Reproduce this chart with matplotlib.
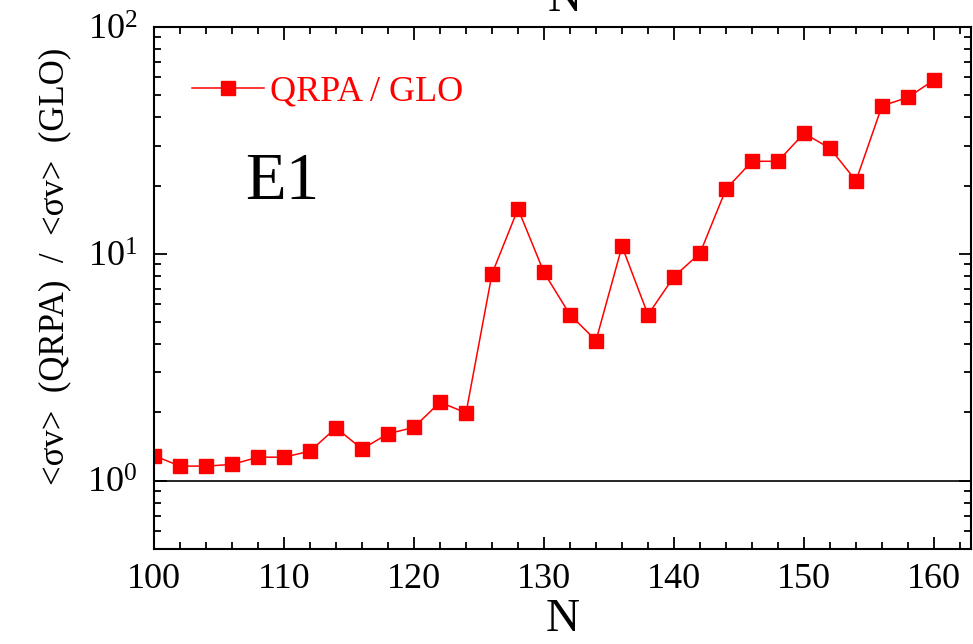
import matplotlib
matplotlib.use('Agg')
from matplotlib import pyplot as plt
from matplotlib.ticker import MultipleLocator, LogLocator, NullFormatter
import numpy as np

plt.rcParams['font.family'] = ['Liberation Serif', 'DejaVu Serif']
plt.rcParams['mathtext.fontset'] = 'custom'
plt.rcParams['mathtext.rm'] = 'Liberation Serif'
plt.rcParams['mathtext.it'] = 'Liberation Serif:italic'

# neutron number
n_vals = [100, 102, 104, 106, 108, 110, 112, 114, 116, 118, 120,
          122, 124, 126, 128, 130, 132, 134, 136, 138, 140,
          142, 144, 146, 148, 150, 152, 154, 156, 158, 160]
# ratio of QRPA to GLO averaged E1 rates
ratio = [1.29, 1.16, 1.16, 1.18, 1.27, 1.27, 1.35, 1.71, 1.38, 1.61, 1.72,
         2.22, 1.99, 8.17, 15.8, 8.28, 5.39, 4.15, 10.8, 5.39, 7.94,
         10.07, 19.3, 25.6, 25.6, 34.0, 29.2, 21.0, 44.9, 49.0, 58.4]

fig = plt.figure(figsize=(9.73, 6.44), dpi=100)
ax = fig.add_axes([0.1583, 0.1475, 0.998 - 0.1583, 0.958 - 0.1475])

ax.plot(n_vals, ratio, color='#ff0000', lw=1.1, marker='s', ms=10,
        label='QRPA / GLO')
ax.axhline(1.0, color='black', lw=1.2)

ax.set_yscale('log')
ax.set_xlim(100, 162.85)
ax.set_ylim(0.5, 100)

ax.xaxis.set_major_locator(MultipleLocator(10))
ax.xaxis.set_minor_locator(MultipleLocator(2))
ax.yaxis.set_major_locator(LogLocator(base=10))
ax.yaxis.set_minor_locator(LogLocator(base=10, subs=np.arange(2, 10)))
ax.yaxis.set_minor_formatter(NullFormatter())

ax.tick_params(which='both', direction='in', top=True, right=True,
               width=1.3, labelsize=26)
ax.tick_params(which='major', length=9)
ax.tick_params(which='minor', length=5)
ax.tick_params(axis='x', pad=10)
ax.tick_params(axis='y', pad=12)
for sp in ax.spines.values():
    sp.set_linewidth(1.5)

ax.set_xlabel('N', fontsize=34, labelpad=2)
fig.text(0.0565, 0.587, '<σv>  (QRPA)  /  <σv>  (GLO)', fontsize=25,
         rotation=90, ha='center', va='center')

ax.text(0.112, 0.670, 'E1', transform=ax.transAxes, fontsize=48,
        va='baseline')

leg = ax.legend(loc='upper left', bbox_to_anchor=(0.029, 0.935), frameon=False,
                fontsize=26, handlelength=2.0, handletextpad=0.15,
                borderaxespad=0)
for t in leg.get_texts():
    t.set_color('#ff0000')

# x label of the panel above, mostly cut off at the top edge
fig.text(0.58, 1.0, 'N', fontsize=34, ha='center', va='center')

fig.savefig('out.png', dpi=100)
